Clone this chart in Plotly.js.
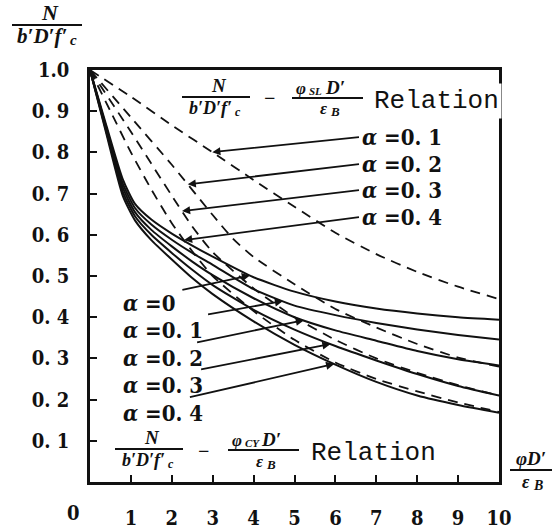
<!DOCTYPE html>
<html>
<head>
<meta charset="utf-8">
<script src="https://cdn.plot.ly/plotly-3.0.1.min.js"></script>
<style>
  html, body { margin: 0; padding: 0; background: #fff; }
  #chart { width: 553px; height: 529px; }
</style>
</head>
<body>
<div id="chart"></div>
<script>
// Axial load ratio N/(b'D'f'c) against curvature ratio φD'/εB

// φCY relation (solid curves)
const X_CY = [0, 0.4, 0.8, 1.1, 1.5, 2, 2.5, 3, 4, 5, 6, 7, 8, 9, 10];
const CY_A00 = [1.0, 0.865, 0.735, 0.675, 0.637, 0.603, 0.574, 0.547, 0.497, 0.462, 0.438, 0.421, 0.409, 0.400, 0.394];
const CY_A01 = [1.0, 0.860, 0.725, 0.665, 0.625, 0.588, 0.556, 0.527, 0.468, 0.428, 0.405, 0.386, 0.370, 0.357, 0.346];
const CY_A02 = [1.0, 0.855, 0.715, 0.655, 0.612, 0.572, 0.535, 0.502, 0.446, 0.400, 0.368, 0.343, 0.318, 0.298, 0.283];
const CY_A03 = [1.0, 0.850, 0.705, 0.645, 0.600, 0.556, 0.515, 0.478, 0.418, 0.370, 0.330, 0.295, 0.262, 0.233, 0.210];
const CY_A04 = [1.0, 0.845, 0.695, 0.635, 0.587, 0.540, 0.495, 0.456, 0.390, 0.333, 0.285, 0.243, 0.210, 0.187, 0.168];

// φSL relation (dashed curves)
const X_SL1 = [0, 1, 2, 3, 4, 5, 6, 7, 8, 9, 10];
const SL_A01 = [1.0, 0.935, 0.866, 0.800, 0.733, 0.668, 0.605, 0.553, 0.510, 0.474, 0.444];
const X_SL2 = [0, 1, 2, 3, 3.5, 4, 5, 6, 7, 8, 9, 10];
const SL_A02 = [1.0, 0.885, 0.770, 0.648, 0.590, 0.546, 0.480, 0.420, 0.375, 0.335, 0.302, 0.280];
const X_SL3 = [0, 1, 2, 2.5, 3, 4, 5, 6, 7, 8, 9, 10];
const SL_A03 = [1.0, 0.850, 0.695, 0.620, 0.558, 0.470, 0.400, 0.345, 0.300, 0.265, 0.235, 0.210];
const X_SL4 = [0, 0.5, 1, 1.5, 2, 2.5, 3, 4, 5, 6, 7, 8, 9, 10];
const SL_A04 = [1.0, 0.900, 0.800, 0.710, 0.628, 0.560, 0.500, 0.415, 0.345, 0.290, 0.250, 0.220, 0.193, 0.170];

// tick labels
const X_TICKS = [1, 2, 3, 4, 5, 6, 7, 8, 9, 10];
const X_TICK_TEXT = ['1', '2', '3', '4', '5', '6', '7', '8', '9', '10'];
const Y_TICKS = [0.1, 0.2, 0.3, 0.4, 0.5, 0.6, 0.7, 0.8, 0.9, 1.0];
const Y_TICK_TEXT = ['0. 1', '0. 2', '0. 3', '0. 4', '0. 5', '0. 6', '0. 7', '0. 8', '0. 9', '1.0'];

// curve labels
const SL_LABELS = ['α =0. 1', 'α =0. 2', 'α =0. 3', 'α =0. 4'];
const CY_LABELS = ['α =0', 'α =0. 1', 'α =0. 2', 'α =0. 3', 'α =0. 4'];

// plot box in pixels
const W = 553, H = 529;
const L = 90, R = 499, T = 70, B = 482;
const px = x => (x - L) / (R - L);          // pixel -> paper x
const py = y => (B - y) / (B - T);          // pixel -> paper y
const dx = x => (x - L) / (R - L) * 10;     // pixel -> data x
const dy = y => (B - y) / (B - T);          // pixel -> data y

function interp(xs, ys, x) {
  for (let i = 1; i < xs.length; i++) {
    if (x <= xs[i]) {
      const t = (x - xs[i - 1]) / (xs[i] - xs[i - 1]);
      return ys[i - 1] + t * (ys[i] - ys[i - 1]);
    }
  }
  return ys[ys.length - 1];
}

const INK = '#111';
const solid = { color: INK, width: 2, shape: 'spline', smoothing: 0.6 };
const dashed = { color: INK, width: 1.8, dash: '10px,7px', shape: 'spline', smoothing: 0.6 };

const cySeries = [CY_A00, CY_A01, CY_A02, CY_A03, CY_A04];
const slSeries = [[X_SL1, SL_A01], [X_SL2, SL_A02], [X_SL3, SL_A03], [X_SL4, SL_A04]];

const traces = [];
cySeries.forEach(ys => traces.push({ x: X_CY, y: ys, mode: 'lines', line: solid, hoverinfo: 'skip', showlegend: false }));
slSeries.forEach(([xs, ys]) => traces.push({ x: xs, y: ys, mode: 'lines', line: dashed, hoverinfo: 'skip', showlegend: false }));

const serif = 'Liberation Serif, DejaVu Serif, serif';
const cond = 'DejaVu Serif Condensed, DejaVu Serif, serif';
const mono = 'Liberation Mono, DejaVu Sans Mono, monospace';

const annotations = [];
const shapes = [];

function txt(text, xp, yp, size, family, opts) {
  annotations.push(Object.assign({
    text: text, xref: 'paper', yref: 'paper', x: px(xp), y: py(yp),
    xanchor: 'center', yanchor: 'middle', showarrow: false, borderpad: 0,
    font: { family: family, size: size, color: INK, weight: 'bold' }
  }, opts || {}));
}
// bold italic math glyphs
const bi = (t, xp, yp, size, anchor) => txt('<i>' + t + '</i>', xp, yp, size, serif, { xanchor: anchor || 'center' });
function bar(x0, x1, y) {
  shapes.push({ type: 'line', xref: 'paper', yref: 'paper', x0: px(x0), x1: px(x1), y0: py(y), y1: py(y),
    line: { color: INK, width: 2 } });
}
// fraction  N / b'D'f'c  centred on cx, bar at yb
function loadRatio(cx, yb, size, half) {
  bi('N', cx + 3, yb - 12, size + 1);
  bar(cx - half, cx + half, yb);
  const right = cx - 6 + 1.3 * size;
  bi('b′D′f′', right, yb + 11, size, 'right');
  bi('c', right + 0.5, yb + 15, size - 6, 'left');
}
// fraction  φ_sub D' / εB  centred on cx, bar at yb
function curvRatio(cx, yb, sub, size) {
  bi('φ', cx - 20, yb - 10, size, 'right');
  bi(sub, cx - 19.5, yb - 7, size - 6, 'left');
  bi('D′', cx - 3, yb - 11, size + 2, 'left');
  bar(cx - 35, cx + 36, yb);
  bi('ε', cx + 1, yb + 11, size, 'right');
  bi('B', cx + 1.5, yb + 14, size - 4, 'left');
}

// y-axis title: N / b'D'f'c
loadRatio(47, 25, 21, 35);

// x-axis title: φD' / εB
bi('φD′', 531, 458, 19);
bar(510, 552, 470);
bi('ε', 531, 482, 18, 'right');
bi('B', 531.5, 485, 14, 'left');

// φSL relation heading
loadRatio(216, 97, 18, 34);
txt('−', 269, 98, 20, serif);
curvRatio(327, 98, 'SL', 17);
txt('Relation', 502, 101, 26, mono, { xanchor: 'right', bgcolor: '#fff', borderpad: 2, font: { family: mono, size: 26, color: INK } });

// φCY relation heading
loadRatio(149, 449, 18, 34);
txt('−', 203, 451, 20, serif);
curvRatio(263, 450, 'CY', 17);
txt('Relation', 437, 453, 26, mono, { xanchor: 'right', font: { family: mono, size: 26, color: INK } });

// "0" at the origin, set apart to the left
txt('0', 73, 513, 20, cond);

// curve label with its leader pointing at the curve
function label(text, xs, ys, xTip, tailX, tailY, gap) {
  annotations.push({
    text: text.replace('α', '<i>α</i>'), xref: 'x', yref: 'y', x: xTip, y: interp(xs, ys, xTip),
    axref: 'x', ayref: 'y', ax: dx(tailX), ay: dy(tailY), xanchor: 'left', yanchor: 'middle',
    font: { family: cond, size: 22, color: INK, weight: 'bold' },
    showarrow: true, arrowhead: 2, arrowsize: 0.9, arrowwidth: 1.8, arrowcolor: INK,
    standoff: 0, startstandoff: gap
  });
}

// φSL curve labels
const slTextY = [137, 164, 190, 217];
const slTipX = [2.99, 2.39, 2.25, 2.30];
SL_LABELS.forEach((lab, i) => label(lab, slSeries[i][0], slSeries[i][1], slTipX[i], 360, slTextY[i], 1));

// φCY curve labels
const cyTextY = [303, 330, 358, 385, 413];
const cyTipX = [3.91, 4.72, 5.23, 5.88, 5.97];
CY_LABELS.forEach((lab, i) => label(lab, X_CY, cySeries[i], cyTipX[i], 121, cyTextY[i], 6));

const axisCommon = {
  showline: true, linewidth: 2.6, linecolor: INK, mirror: true,
  ticks: 'inside', ticklen: 7, tickwidth: 2, tickcolor: INK,
  showgrid: false, zeroline: false, fixedrange: true,
  tickfont: { family: cond, size: 20, color: INK, weight: 'bold' }
};

const layout = {
  width: W, height: H,
  margin: { l: L, r: W - R, t: T, b: H - B, pad: 0 },
  paper_bgcolor: '#fff', plot_bgcolor: '#fff',
  showlegend: false,
  xaxis: Object.assign({}, axisCommon, { range: [0, 10], tickvals: X_TICKS, ticktext: X_TICK_TEXT, ticklabelstandoff: 16 }),
  yaxis: Object.assign({}, axisCommon, { range: [0, 1], tickvals: Y_TICKS, ticktext: Y_TICK_TEXT, ticklabelstandoff: 14 }),
  annotations: annotations,
  shapes: shapes
};

Plotly.newPlot('chart', traces, layout, { displayModeBar: false, staticPlot: true });
</script>
</body>
</html>
